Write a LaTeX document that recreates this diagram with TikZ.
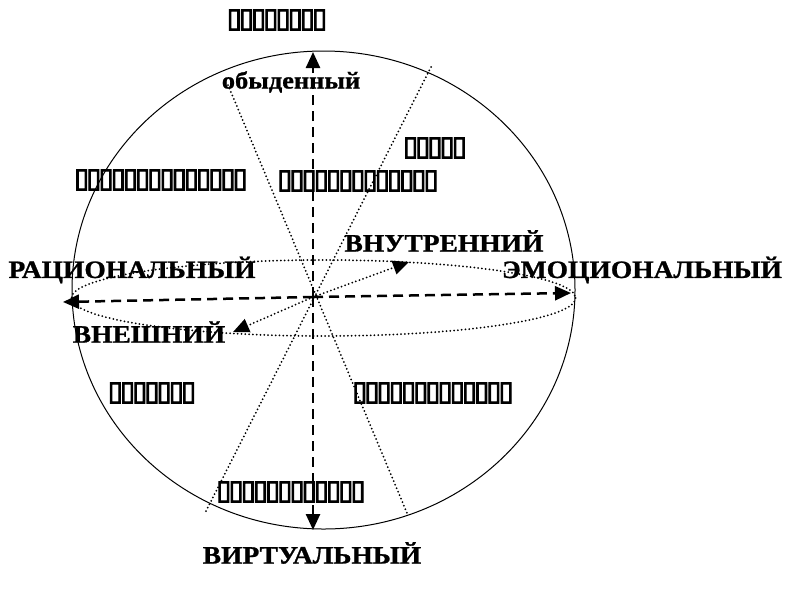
\documentclass[tikz,border=0pt]{standalone}
\usepackage{fontspec}
\setmainfont{Liberation Serif}
\newfontfamily\lblfont[FakeStretch=1.1,FakeBold=1]{Liberation Serif}
\newfontfamily\tofufont[FakeBold=4]{DejaVu Sans}
\usetikzlibrary{arrows.meta,shapes.geometric}
\newcommand\tofurow[1]{{\tofufont\fontsize{27}{27}\selectfont\foreach\i in {1,...,#1}{\makebox[12.2pt]{▯}}}}
\tikzset{
  lbl/.style={font=\lblfont\bfseries\fontsize{25}{27}\selectfont, inner sep=0pt},
  small/.style={font=\lblfont\bfseries\fontsize{24}{26}\selectfont, inner sep=0pt},
  tofulbl/.style={inner sep=0pt},
  axisarrow/.style={line width=2.5pt, dash pattern=on 10pt off 6pt},
  tip/.style={-{Triangle[length=16pt,width=14pt]}},
  dottedline/.style={line width=2pt, dash pattern=on 0pt off 3.8pt, line cap=round},
  frame/.style={line width=1pt}
}
\begin{document}
\begin{tikzpicture}[x=1pt,y=-1pt]
\useasboundingbox (0,0) rectangle (789,590);
% outer circle
\node[frame, draw, ellipse, minimum width=503pt, minimum height=478pt, inner sep=0pt] (outer) at (323.5,290) {};
% inner dotted ellipse
\draw[dottedline] (323.5,298) ellipse [x radius=252, y radius=38];
% key points
\coordinate (O) at (313,297);
\coordinate (top) at (313,52);
\coordinate (bot) at (313,530);
\coordinate (lft) at (63,302);
\coordinate (rgt) at (571,293);
\coordinate (inn) at (409,262);
\coordinate (out) at (233,332);
\coordinate (a1) at (228,85);
\coordinate (a2) at (407,513);
\coordinate (b1) at (431,67);
\coordinate (b2) at (205,513);
% texts
\node[tofulbl] (t1) at (277,20) {\tofurow{8}};
\node[small] (obyd) at (291,82) {обыденный};
\node[tofulbl] (t2) at (435,148) {\tofurow{5}};
\node[tofulbl] (t3) at (161,180) {\tofurow{14}};
\node[tofulbl] (t4) at (358,181) {\tofurow{13}};
\node[lbl] (vnutr) at (444,241) {ВНУТРЕННИЙ};
\node[lbl] (rac) at (132,270) {РАЦИОНАЛЬНЫЙ};
\node[lbl] (emo) at (642,270) {ЭМОЦИОНАЛЬНЫЙ};
\node[lbl] (vnesh) at (149,332) {ВНЕШНИЙ};
\node[tofulbl] (t5) at (152,393) {\tofurow{7}};
\node[tofulbl] (t6) at (433,393) {\tofurow{13}};
\node[tofulbl] (t7) at (291,492) {\tofurow{12}};
\node[lbl] (virt) at (312,553) {ВИРТУАЛЬНЫЙ};
% dotted diagonals
\draw[dottedline] (a1) -- (a2);
\draw[dottedline] (b1) -- (b2);
% dotted arrows
\draw[dottedline, tip] (O) -- (inn);
\draw[dottedline, tip] (O) -- (out);
% dashed axes
\draw[axisarrow, tip] (O) -- (top);
\draw[axisarrow, tip] (O) -- (bot);
\draw[axisarrow, tip] (O) -- (lft);
\draw[axisarrow, tip] (O) -- (rgt);
\end{tikzpicture}
\end{document}
